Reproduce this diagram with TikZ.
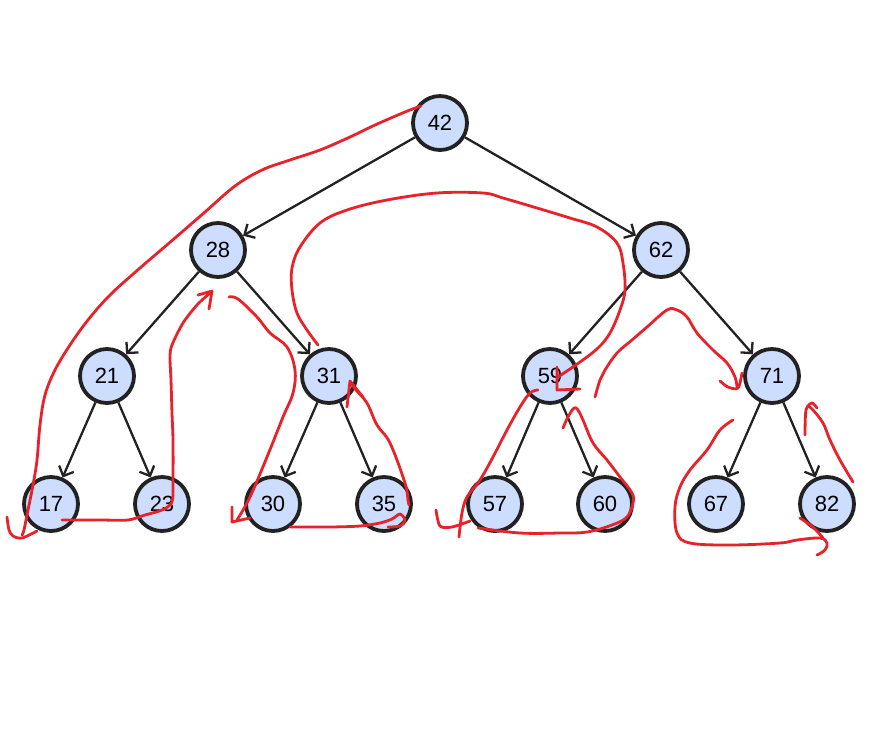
\documentclass[tikz,border=0pt]{standalone}
\usepackage{fontspec}
\setmainfont{Liberation Sans}
\usepackage{tikz}
\usetikzlibrary{arrows.meta, positioning}
\definecolor{NodeFill}{HTML}{CCDDFF}
\definecolor{NodeLine}{HTML}{222222}
\definecolor{PenRed}{HTML}{E8222A}

\begin{document}
\begin{tikzpicture}[
    x=0.5pt, y=-0.5pt,
    on grid,
    node distance=63.5pt and 111pt,
    bstnode/.style={circle, draw=NodeLine, fill=NodeFill, line width=1.9pt, minimum size=27pt, inner sep=0pt, font=\fontsize{11}{13}\selectfont},
    link/.style={-{Straight Barb[length=4pt, width=8pt]}, line width=1.15pt, NodeLine},
    trace/.style={PenRed, line width=1.4pt, line cap=round, line join=round},
]
\useasboundingbox (0,0) rectangle (880,752);

% Root and second level
\node[bstnode] (k42) at (440,123) {42};
\node[bstnode, below left=63.5pt and 111pt of k42] (k28) {28};
\node[bstnode, below right=63.5pt and 110.5pt of k42] (k62) {62};

% Third level
\node[bstnode, below left=63pt and 55.5pt of k28] (k21) {21};
\node[bstnode, below right=63pt and 55.5pt of k28] (k31) {31};
\node[bstnode, below left=63pt and 55.5pt of k62] (k59) {59};
\node[bstnode, below right=63pt and 55.5pt of k62] (k71) {71};

% Leaves
\node[bstnode, below left=64pt and 28pt of k21] (k17) {17};
\node[bstnode, below right=64pt and 27.5pt of k21] (k23) {23};
\node[bstnode, below left=64pt and 28pt of k31] (k30) {30};
\node[bstnode, below right=64pt and 27.5pt of k31] (k35) {35};
\node[bstnode, below left=64pt and 27.5pt of k59] (k57) {57};
\node[bstnode, below right=64pt and 27.5pt of k59] (k60) {60};
\node[bstnode, below left=64pt and 28pt of k71] (k67) {67};
\node[bstnode, below right=64pt and 27.5pt of k71] (k82) {82};

% Tree links
\draw[link] (k42) -- (k28);
\draw[link] (k42) -- (k62);
\draw[link] (k28) -- (k21);
\draw[link] (k28) -- (k31);
\draw[link] (k62) -- (k59);
\draw[link] (k62) -- (k71);
\draw[link] (k21) -- (k17);
\draw[link] (k21) -- (k23);
\draw[link] (k31) -- (k30);
\draw[link] (k31) -- (k35);
\draw[link] (k59) -- (k57);
\draw[link] (k59) -- (k60);
\draw[link] (k71) -- (k67);
\draw[link] (k71) -- (k82);

% Hand-drawn traversal
\draw[trace] plot[smooth, tension=0.6] coordinates {(421,106) (405,112) (375,125) (350,137) (320,150) (290,160) (262,170) (235,186) (205,212) (175,238) (140,268) (110,295) (88,320) (70,345) (55,370) (45,395) (40,425) (37,460) (33,485) (28,510) (24,530) (22,535)};
\draw[trace] plot[smooth, tension=0.5] coordinates {(7,517) (9,530) (13,536) (22,538) (37,531)};

\draw[trace] plot[smooth, tension=0.5] coordinates {(62,520) (100,520) (128,520) (145,515) (162,510) (172,502) (173,480) (173,440) (172,413) (171,380) (170,357) (172,345) (183,323) (197,305) (210,293)};
\draw[trace] (198,295) -- (212,291) -- (209,309);

\draw[trace] plot[smooth, tension=0.6] coordinates {(229,297) (238,299) (257,317) (270,333) (287,347) (295,370) (293,393) (283,417) (267,457) (250,497) (237,520)};
\draw[trace] (232,507) -- (232,522) -- (250,518);

\draw[trace] plot[smooth, tension=0.5] coordinates {(290,527) (330,527) (360,526) (380,523) (392,519) (400,514) (405,520) (400,526) (388,527)};

\draw[trace] plot[smooth, tension=0.6] coordinates {(409,505) (408,500) (405,483) (390,443) (377,425) (367,403) (356,390) (351,383)};
\draw[trace] (347,407) -- (350,381) -- (363,397);

\draw[trace] plot[smooth, tension=0.6] coordinates {(318,345) (307,330) (297,313) (292,290) (292,268) (300,247) (320,223) (347,210) (387,200) (437,193) (483,193) (503,198) (537,208) (570,218) (597,227) (617,243) (623,263) (625,290) (620,310) (610,333) (598,348) (580,362) (558,377)};
\draw[trace] (557,367) -- (557,390) -- (580,389);

\draw[trace] plot[smooth, tension=0.6] coordinates {(538,390) (530,393) (520,407) (507,430) (493,457) (480,480) (467,497) (462,513) (459,537)};
\draw[trace] plot[smooth, tension=0.5] coordinates {(436,510) (440,526) (452,527) (470,521)};

\draw[trace] plot[smooth, tension=0.6] coordinates {(478,528) (520,533) (560,533) (587,532) (612,525) (627,517) (633,503) (632,493) (620,477) (607,460) (593,443) (583,420) (578,410) (574,408) (568,417) (563,428)};

\draw[trace] plot[smooth, tension=0.6] coordinates {(595,397) (600,380) (605,370) (617,353) (632,340) (647,327) (667,310) (677,310) (687,317) (697,333) (713,350) (727,363) (735,377) (737,387)};
\draw[trace] plot[smooth, tension=0.5] coordinates {(720,381) (728,387) (738,388) (742,373)};

\draw[trace] plot[smooth, tension=0.6] coordinates {(733,420) (720,430) (707,450) (690,470) (680,487) (675,507) (677,533) (690,543) (730,545) (780,543) (797,540) (820,538) (827,543) (825,550) (817,555)};
\draw[trace] plot[smooth, tension=0.5] coordinates {(800,518) (813,527) (823,538)};

\draw[trace] plot[smooth, tension=0.6] coordinates {(853,482) (840,460) (830,440) (823,423) (813,410) (808,406)};
\draw[trace] plot[smooth, tension=0.5] coordinates {(805,435) (806,410) (812,403) (817,408)};

\end{tikzpicture}
\end{document}
